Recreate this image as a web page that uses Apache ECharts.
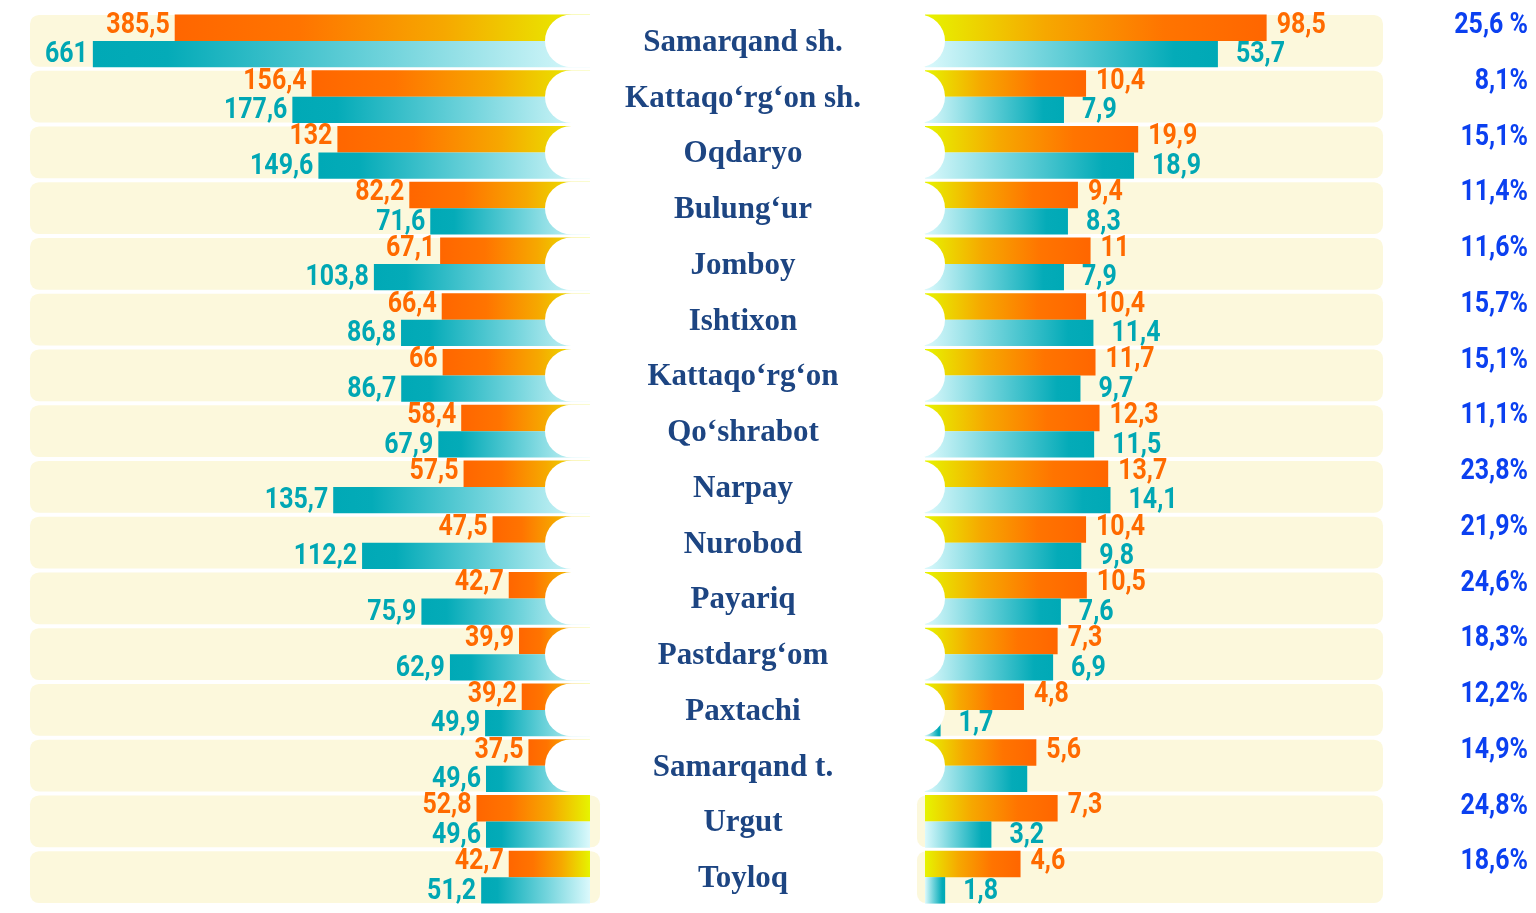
<!DOCTYPE html>
<html>
<head>
<meta charset="utf-8">
<script src="https://cdn.jsdelivr.net/npm/echarts@6/dist/echarts.min.js"></script>
<style>
  html, body { margin: 0; padding: 0; background: #fff; }
  #chart { width: 1536px; height: 913px; }
</style>
</head>
<body>
<div id="chart"></div>
<script>
const districts = [
  'Samarqand sh.', 'Kattaqo‘rg‘on sh.', 'Oqdaryo', 'Bulung‘ur', 'Jomboy', 'Ishtixon',
  'Kattaqo‘rg‘on', 'Qo‘shrabot', 'Narpay', 'Nurobod', 'Payariq', 'Pastdarg‘om',
  'Paxtachi', 'Samarqand t.', 'Urgut', 'Toyloq'
]
const leftOrange = [385.5, 156.4, 132, 82.2, 67.1, 66.4, 66, 58.4, 57.5, 47.5, 42.7, 39.9, 39.2, 37.5, 52.8, 42.7]
const leftTeal = [661, 177.6, 149.6, 71.6, 103.8, 86.8, 86.7, 67.9, 135.7, 112.2, 75.9, 62.9, 49.9, 49.6, 49.6, 51.2]
const rightOrange = [98.5, 10.4, 19.9, 9.4, 11, 10.4, 11.7, 12.3, 13.7, 10.4, 10.5, 7.3, 4.8, 5.6, 7.3, 4.6]
// Samarqand t. teal bar on the right has no printed value, estimated from its length
const rightTeal = [53.7, 7.9, 18.9, 8.3, 7.9, 11.4, 9.7, 11.5, 14.1, 9.8, 7.6, 6.9, 1.7, 5, 3.2, 1.8]
const rightTealNoLabel = [13]
const shares = [
  '25,6 %', '8,1%', '15,1%', '11,4%', '11,6%', '15,7%', '15,1%', '11,1%',
  '23,8%', '21,9%', '24,6%', '18,3%', '12,2%', '14,9%', '24,8%', '18,6%'
]

const LEFT_MIN = 25
const LEFT_MAX = 1000
const RIGHT_MIN = 1.4
const RIGHT_MAX = 430
const PILL_ROWS = 14

// Roboto squeezed horizontally stands in for the condensed face of the original
const numFont = 'bold 29px Roboto, "DejaVu Sans", sans-serif'
const SQUEEZE = 0.86
const ORANGE = '#ff6a00'
const TEAL = '#00a7b4'

const orangeStops = [
  { offset: 0, color: '#ff6600' },
  { offset: 0.3, color: '#ff7400' },
  { offset: 0.65, color: '#f6a800' },
  { offset: 1, color: '#e6f400' }
]
const tealStops = [
  { offset: 0, color: '#00a9b6' },
  { offset: 0.15, color: '#04abb8' },
  { offset: 0.6, color: '#72d4dc' },
  { offset: 1, color: '#dbf9fc' }
]
const reverse = stops => stops.map(s => ({ offset: 1 - s.offset, color: s.color })).reverse()

const fmt = v => String(v).replace('.', ',')

const squeezedText = (text, x, y, align, fill) => ({
  type: 'text',
  x: x,
  y: y,
  scaleX: SQUEEZE,
  z2: 10,
  style: { text, x: 0, y: 0, align, verticalAlign: 'middle', font: numFont, fill }
})

const chart = echarts.init(document.getElementById('chart'))

const bgSeries = (gridIdx) => ({
  type: 'custom',
  xAxisIndex: gridIdx,
  yAxisIndex: gridIdx,
  z: 1,
  silent: true,
  clip: false,
  data: districts.map((d, i) => [i]),
  renderItem: (params, api) => {
    const i = api.value(0)
    const band = api.size([1, 1], [gridIdx === 0 ? 100 : 10, i])[1]
    let x0, x1, c
    if (gridIdx === 0) {
      c = api.coord([LEFT_MAX, i])
      x0 = c[0]
      x1 = api.coord([LEFT_MIN, i])[0] + 10
    } else {
      c = api.coord([RIGHT_MIN, i])
      x0 = c[0] - 8
      x1 = api.coord([RIGHT_MAX, i])[0] - 2
    }
    const h = band * 0.93
    return {
      type: 'rect',
      shape: { x: x0, y: c[1] - h / 2, width: x1 - x0, height: h, r: 9 },
      style: { fill: '#fcf8dc' }
    }
  }
})

const barSeries = (gridIdx, values, stops, color, top, gap, noLabel) => ({
  type: 'custom',
  xAxisIndex: gridIdx,
  yAxisIndex: gridIdx,
  z: 3,
  clip: false,
  data: values.map((v, i) => [v, i]),
  renderItem: (params, api) => {
    const v = api.value(0)
    const i = api.value(1)
    const base = api.coord([gridIdx === 0 ? LEFT_MIN : RIGHT_MIN, i])
    const end = api.coord([v, i])
    const band = api.size([1, 1], [v, i])[1]
    const h = band * 0.475
    const y = top ? base[1] - h : base[1]
    const x0 = Math.min(base[0], end[0])
    const w = Math.abs(end[0] - base[0])
    const children = [{
      type: 'rect',
      shape: { x: x0, y: y, width: w, height: h },
      style: { fill: new echarts.graphic.LinearGradient(0, 0, 1, 0, stops) }
    }]
    if (!(noLabel && noLabel.includes(i))) {
      children.push(squeezedText(
        fmt(v),
        gridIdx === 0 ? end[0] - gap : end[0] + gap,
        y + h / 2 + (top ? -2 : 1),
        gridIdx === 0 ? 'right' : 'left',
        color
      ))
    }
    return { type: 'group', children }
  }
})

const nameSeries = {
  type: 'custom',
  xAxisIndex: 0,
  yAxisIndex: 0,
  z: 6,
  clip: false,
  silent: true,
  data: districts.map((d, i) => [i]),
  renderItem: (params, api) => {
    const i = api.value(0)
    const c = api.coord([LEFT_MIN, i])
    const band = api.size([1, 1], [100, i])[1]
    const h = band * 0.95
    const children = []
    if (i < PILL_ROWS) {
      children.push({
        type: 'rect',
        shape: { x: c[0] - 45, y: c[1] - h / 2, width: 400, height: h, r: h / 2 },
        style: { fill: '#ffffff' }
      })
    }
    children.push({
      type: 'text',
      style: {
        text: districts[i],
        x: c[0] + 153,
        y: c[1] + 2,
        align: 'center',
        verticalAlign: 'middle',
        font: 'bold 31px "Liberation Serif", "DejaVu Serif", serif',
        fill: '#1d4582'
      }
    })
    return { type: 'group', children }
  }
}

const shareSeries = {
  type: 'custom',
  xAxisIndex: 1,
  yAxisIndex: 1,
  z: 6,
  clip: false,
  silent: true,
  data: shares.map((s, i) => [i]),
  renderItem: (params, api) => {
    const i = api.value(0)
    const c = api.coord([RIGHT_MAX, i])
    return squeezedText(shares[i], c[0] + 143, c[1] - 15, 'right', '#0b40f0')
  }
}

const option = {
  animation: false,
  backgroundColor: '#ffffff',
  grid: [
    { left: 30, width: 560, top: 13, height: 892 },
    { left: 925, width: 460, top: 13, height: 892 }
  ],
  xAxis: [
    { type: 'log', gridIndex: 0, inverse: true, min: LEFT_MIN, max: LEFT_MAX, show: false },
    { type: 'log', gridIndex: 1, min: RIGHT_MIN, max: RIGHT_MAX, show: false }
  ],
  yAxis: [
    { type: 'category', gridIndex: 0, data: districts, inverse: true, show: false },
    { type: 'category', gridIndex: 1, data: districts, inverse: true, show: false }
  ],
  series: [
    bgSeries(0),
    bgSeries(1),
    barSeries(0, leftOrange, orangeStops, ORANGE, true, 5),
    barSeries(0, leftTeal, tealStops, TEAL, false, 5),
    barSeries(1, rightOrange, reverse(orangeStops), ORANGE, true, 10),
    barSeries(1, rightTeal, reverse(tealStops), TEAL, false, 18, rightTealNoLabel),
    nameSeries,
    shareSeries
  ]
}

chart.setOption(option)
</script>
</body>
</html>
